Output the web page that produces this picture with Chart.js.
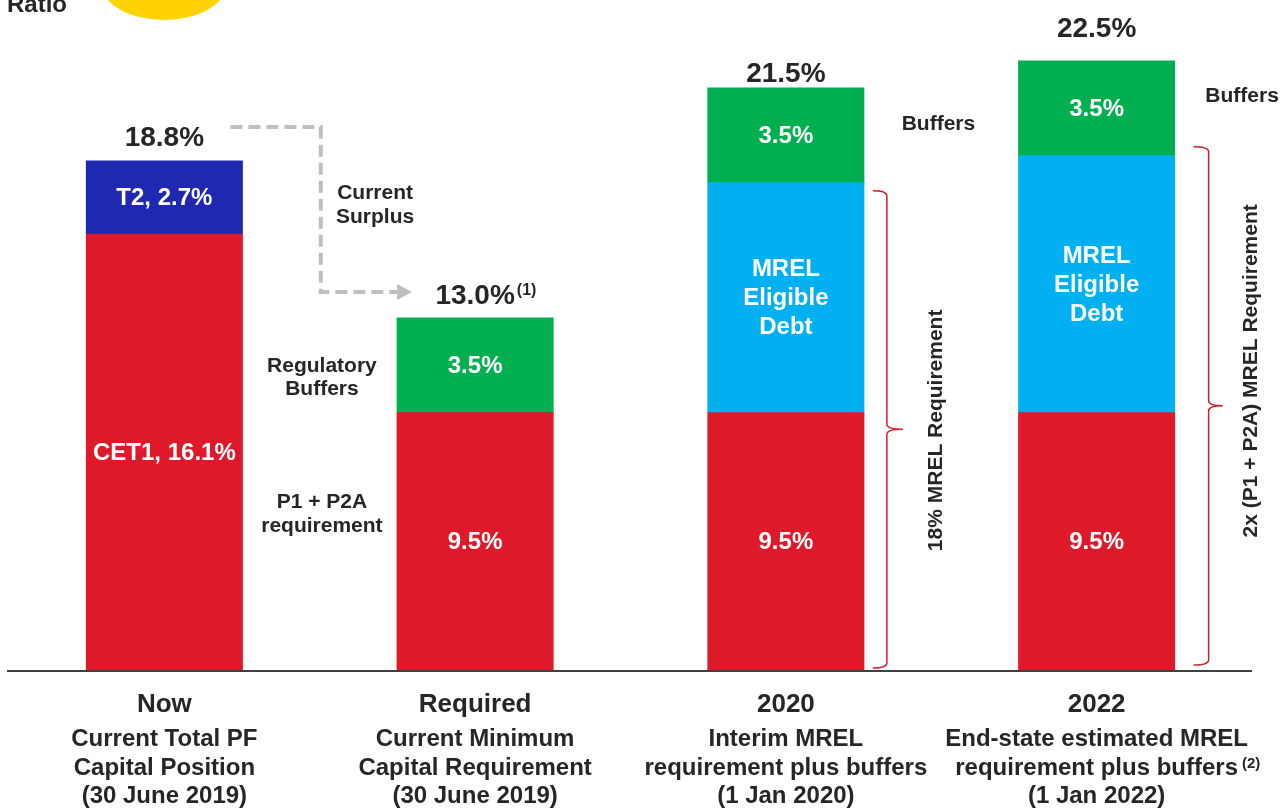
<!DOCTYPE html>
<html>
<head>
<meta charset="utf-8">
<script src="https://cdn.jsdelivr.net/npm/chart.js@4.4.1/dist/chart.umd.min.js"></script>
<style>
  html, body { margin: 0; padding: 0; background: #ffffff; overflow: hidden; }
  canvas { display: block; }
</style>
</head>
<body>
<canvas id="capitalChart" width="1284" height="808"></canvas>
<script>
// Categories and their descriptive lines under the axis
const categories = ['Now', 'Required', '2020', '2022'];
const categoryDetails = [
  ['Current Total PF', 'Capital Position', '(30 June 2019)'],
  ['Current Minimum', 'Capital Requirement', '(30 June 2019)'],
  ['Interim MREL', 'requirement plus buffers', '(1 Jan 2020)'],
  ['End-state estimated MREL', 'requirement plus buffers', '(1 Jan 2022)']
];
const detailFootnotes = ['', '', '', '(2)'];
const totalFootnotes = ['', '(1)', '', ''];

// Stack components, % of RWAs
const cet1Values = [16.1, 9.5, 9.5, 9.5];
const tier2Values = [2.7, null, null, null];
const mrelDebtValues = [null, null, 8.5, 9.5];
const bufferValues = [null, 3.5, 3.5, 3.5];

// MREL requirement brackets (span from zero up to CET1 + eligible debt)
const bracketLabels = ['', '', '18% MREL Requirement', '2x (P1 + P2A) MREL Requirement'];

const FAMILY = '"Liberation Sans", Arial, Helvetica, sans-serif';
const bold = size => `bold ${size}px ${FAMILY}`;
const INK = '#262626';
const pct = v => v.toFixed(1) + '%';

const totals = categories.map((_, i) =>
  [cet1Values, tier2Values, mrelDebtValues, bufferValues]
    .reduce((s, arr) => s + (arr[i] || 0), 0));

// Text drawn inside each stacked segment
const segmentText = [
  (v, i) => [i === 0 ? 'CET1, ' + pct(v) : pct(v)],
  v => ['T2, ' + pct(v)],
  () => ['MREL', 'Eligible', 'Debt'],
  v => [pct(v)]
];

const annotate = {
  id: 'annotate',
  beforeDatasetsDraw(chart) {
    const { ctx } = chart;
    ctx.save();
    // partial badge and heading at the top edge
    ctx.fillStyle = '#FFD200';
    ctx.beginPath();
    ctx.ellipse(164, -15, 62, 35, 0, 0, Math.PI * 2);
    ctx.fill();
    ctx.fillStyle = INK;
    ctx.font = bold(24);
    ctx.textAlign = 'left';
    ctx.textBaseline = 'alphabetic';
    ctx.fillText('Ratio', 7, 12);
    ctx.restore();
  },
  afterDatasetsDraw(chart, args, opts) {
    const { ctx, chartArea, scales: { x, y } } = chart;
    const bars = chart.getDatasetMeta(0).data;
    ctx.save();

    // axis base line
    ctx.strokeStyle = '#404040';
    ctx.lineWidth = 2;
    ctx.beginPath();
    ctx.moveTo(chartArea.left - 2, chartArea.bottom + 1);
    ctx.lineTo(chartArea.right, chartArea.bottom + 1);
    ctx.stroke();

    // segment labels
    ctx.fillStyle = '#ffffff';
    ctx.font = bold(24);
    ctx.textAlign = 'center';
    ctx.textBaseline = 'middle';
    chart.data.datasets.forEach((ds, d) => {
      chart.getDatasetMeta(d).data.forEach((bar, i) => {
        const v = ds.data[i];
        if (v == null) return;
        const lines = segmentText[d](v, i);
        const cy = (bar.y + bar.base) / 2;
        const lh = 29;
        lines.forEach((t, k) => {
          ctx.fillText(t, bar.x, cy + (k - (lines.length - 1) / 2) * lh + 1);
        });
      });
    });

    // totals above the stacks
    ctx.fillStyle = INK;
    ctx.textBaseline = 'alphabetic';
    totals.forEach((t, i) => {
      const cx = x.getPixelForValue(i);
      const base = y.getPixelForValue(t) - opts.totalGap[i];
      ctx.font = bold(28);
      ctx.textAlign = 'center';
      ctx.fillText(pct(t), cx, base);
      if (totalFootnotes[i]) {
        const w = ctx.measureText(pct(t)).width;
        ctx.font = bold(16);
        ctx.textAlign = 'left';
        ctx.fillText(totalFootnotes[i], cx + w / 2 + 2, base - 9);
      }
    });

    // category labels below the axis
    categories.forEach((c, i) => {
      const cx = x.getPixelForValue(i);
      ctx.textAlign = 'center';
      ctx.font = bold(26);
      ctx.fillText(c, cx, chartArea.bottom + 42);
      const offs = [76, 105, 133];
      categoryDetails[i].forEach((line, k) => {
        ctx.font = bold(24);
        ctx.textAlign = 'center';
        ctx.fillText(line, cx, chartArea.bottom + offs[k]);
        if (k === 1 && detailFootnotes[i]) {
          const w = ctx.measureText(line).width;
          ctx.font = bold(15);
          ctx.textAlign = 'left';
          ctx.fillText(detailFootnotes[i], cx + w / 2 + 4, chartArea.bottom + offs[k] - 7);
        }
      });
    });

    // side notes
    ctx.textAlign = 'center';
    ctx.font = bold(21);
    opts.notes.forEach(n => {
      const nx = x.getPixelForValue(n.at);
      const ny = y.getPixelForValue(n.value);
      n.lines.forEach((t, k) => ctx.fillText(t, nx, ny + k * n.spacing));
    });

    // dashed "current surplus" arrow from the current total to the requirement
    const b0 = bars[0], b1 = bars[1];
    const yFrom = y.getPixelForValue(totals[0]) - 34;
    const yTo = y.getPixelForValue(totals[1]) - 26;
    const xTurn = x.getPixelForValue(0.5) + 1;
    const xStart = b0.x + b0.width / 2 - 12;
    const xEnd = b1.x - b1.width / 2;
    ctx.strokeStyle = '#BFBFBF';
    ctx.lineWidth = 4;
    ctx.setLineDash([12, 6]);
    ctx.beginPath();
    ctx.moveTo(xStart, yFrom);
    ctx.lineTo(xTurn, yFrom);
    ctx.lineTo(xTurn, yTo);
    ctx.lineTo(xEnd, yTo);
    ctx.stroke();
    ctx.setLineDash([]);
    ctx.fillStyle = '#BFBFBF';
    ctx.beginPath();
    ctx.moveTo(xEnd, yTo - 8);
    ctx.lineTo(xEnd + 15, yTo);
    ctx.lineTo(xEnd, yTo + 8);
    ctx.closePath();
    ctx.fill();

    // requirement braces with rotated captions
    ctx.strokeStyle = '#C8202C';
    ctx.lineWidth = 1.5;
    opts.braces.forEach(b => {
      const bar = bars[b.index];
      const span = cet1Values[b.index] + (mrelDebtValues[b.index] || 0);
      const x0 = bar.x + bar.width / 2 + b.gap;
      const yTop = y.getPixelForValue(span) + b.topShift;
      const yBot = y.getPixelForValue(0) - b.bottomShift;
      const x1 = x0 + b.depth;
      const ym = (yTop + yBot) / 2;
      const r = 5;
      ctx.beginPath();
      ctx.moveTo(x0, yTop);
      ctx.quadraticCurveTo(x1, yTop, x1, yTop + r);
      ctx.lineTo(x1, ym - r);
      ctx.quadraticCurveTo(x1, ym, x1 + b.tip, ym);
      ctx.moveTo(x1 + b.tip, ym);
      ctx.quadraticCurveTo(x1, ym, x1, ym + r);
      ctx.lineTo(x1, yBot - r);
      ctx.quadraticCurveTo(x1, yBot, x0, yBot);
      ctx.stroke();

      ctx.save();
      ctx.translate(x1 + b.textDx, ym + b.textDy);
      ctx.rotate(-Math.PI / 2);
      ctx.fillStyle = INK;
      ctx.font = bold(21);
      ctx.textAlign = 'center';
      ctx.textBaseline = 'middle';
      ctx.fillText(bracketLabels[b.index], 0, 0);
      ctx.restore();
    });

    ctx.restore();
  }
};

new Chart(document.getElementById('capitalChart'), {
  type: 'bar',
  data: {
    labels: categories,
    datasets: [
      { label: 'CET1 / P1 + P2A', data: cet1Values, backgroundColor: '#DE1A2A' },
      { label: 'T2', data: tier2Values, backgroundColor: '#1F28B0' },
      { label: 'MREL Eligible Debt', data: mrelDebtValues, backgroundColor: '#00B0F0' },
      { label: 'Buffers', data: bufferValues, backgroundColor: '#00AF50' }
    ]
  },
  options: {
    responsive: false,
    animation: false,
    devicePixelRatio: 1,
    layout: { padding: { left: 9, right: 32, top: 0, bottom: 138 } },
    datasets: { bar: { categoryPercentage: 1, barPercentage: 0.502, borderWidth: 0, inflateAmount: 0.5 } },
    scales: {
      x: { stacked: true, display: false },
      y: { stacked: true, display: false, min: 0, max: 24.75 }
    },
    plugins: {
      legend: { display: false },
      tooltip: { enabled: false },
      annotate: {
        totalGap: [15, 14, 6, 24],
        notes: [
          { lines: ['Current', 'Surplus'], at: 0.678, value: 17.40, spacing: 24 },
          { lines: ['Regulatory', 'Buffers'], at: 0.507, value: 11.01, spacing: 23 },
          { lines: ['P1 + P2A', 'requirement'], at: 0.507, value: 5.98, spacing: 24 },
          { lines: ['Buffers'], at: 2.491, value: 19.95, spacing: 24 },
          { lines: ['Buffers'], at: 3.468, value: 20.98, spacing: 24 }
        ],
        braces: [
          { index: 2, gap: 9, depth: 14, tip: 16, topShift: 8, bottomShift: 2, textDx: 49, textDy: 1 },
          { index: 3, gap: 19, depth: 15, tip: 14, topShift: -9, bottomShift: 5, textDx: 43, textDy: -35 }
        ]
      }
    }
  },
  plugins: [annotate]
});
</script>
</body>
</html>
